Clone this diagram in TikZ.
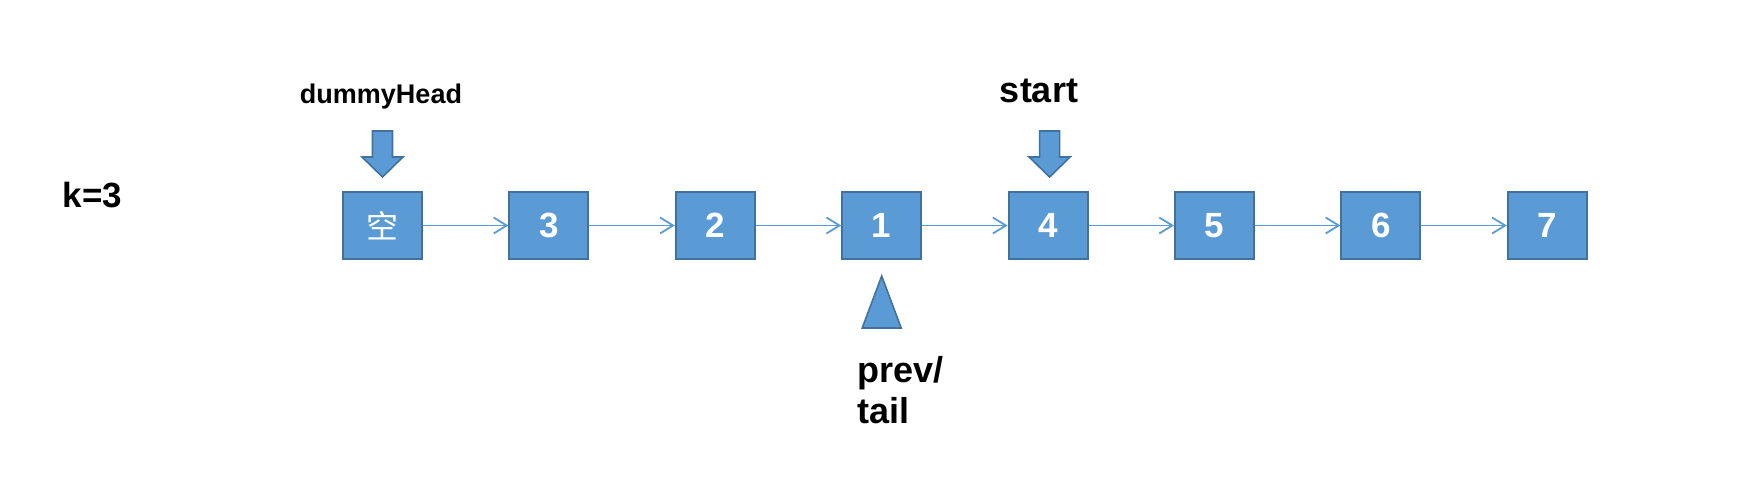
\documentclass[tikz,border=0pt]{standalone}
\usepackage{fontspec}
\setmainfont{Liberation Sans}
\newfontfamily\cjk{Noto Sans CJK SC}
\usetikzlibrary{arrows.meta}
\definecolor{boxblue}{HTML}{5B9BD5}
\definecolor{boxedge}{HTML}{41719C}
\tikzset{
  link/.style={draw=boxblue,line width=0.9pt,-{Straight Barb[length=6.5pt,width=8pt]}},
  pointer/.style={fill=boxblue,draw=boxedge,line width=0.8pt,line join=miter},
  label/.style={font=\fontsize{18}{20.5}\selectfont\bfseries,inner sep=0pt}
}
\begin{document}
\begin{tikzpicture}[x=0.5pt,y=0.5pt]
				\useasboundingbox (0,0) rectangle (1742,494);
				
				\node[label,font=\fontsize{17.5}{20}\selectfont\bfseries] (kval) at (92.5,299) {k=3};
				\begin{scope}[every node/.style={rectangle,draw=boxedge,fill=boxblue,line width=1pt,minimum width=39.5pt,minimum height=33.5pt,text=white,font=\fontsize{17.5}{20}\selectfont\bfseries}]
					\foreach \val [count=\i from 0] in {{\cjk\mdseries\fontsize{16}{18}\selectfont 空},3,2,1,4,5,6,7}
						\node (n\i) at (382.5+166.4*\i,268.5) {\val};
				\end{scope}
				\foreach \i [evaluate=\i as \j using int(\i+1)] in {0,...,6}
					\draw[link] (n\i) -- (n\j);
				
				% pointers
				\draw[pointer] ([yshift=7pt]n0.north) -- ++(20.5,20) -- ++(-10.5,0) -- ++(0,26) -- ++(-20,0) -- ++(0,-26) -- ++(-10.5,0) -- cycle;
				\draw[pointer] ([xshift=0.75pt,yshift=7pt]n4.north) -- ++(20.5,20) -- ++(-10.5,0) -- ++(0,26) -- ++(-20,0) -- ++(0,-26) -- ++(-10.5,0) -- cycle;
				\draw[pointer] ([yshift=-8pt]n3.south) -- ++(19.5,-52) -- ++(-39,0) -- cycle;
				
				\node[label,font=\fontsize{13.5}{16}\selectfont\bfseries,anchor=base] (headlabel) at (381,391) {dummyHead};
				\node[label,anchor=base] (startlabel) at (1039,392) {start};
				\node[label,anchor=base west,align=left] (taillabel) at (857,71) {prev/\\tail};
\end{tikzpicture}
\end{document}
